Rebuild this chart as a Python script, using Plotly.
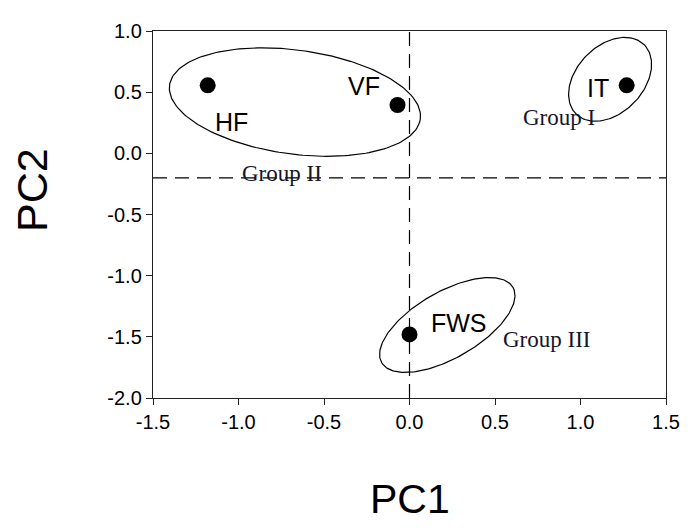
import numpy as np
import plotly.graph_objects as go

# data
names = ["HF", "VF", "IT", "FWS"]
pc1 = [-1.18, -0.07, 1.27, 0.00]
pc2 = [0.556, 0.395, 0.556, -1.48]
label_x = [-1.04, -0.264, 1.10, 0.288]
label_y = [0.258, 0.548, 0.532, -1.387]

groups = ["Group I", "Group II", "Group III"]
group_x = [0.874, -0.745, 0.804]
group_y = [0.29, -0.161, -1.524]
# ellipse centres (data), semi-axes (px) and tilt (deg, up-right positive)
ell_cx = [1.173, -0.67, 0.221]
ell_cy = [0.605, 0.419, -1.403]
ell_a = [49.2, 128.0, 76.6]
ell_b = [33.9, 52.7, 33.7]
ell_ang = [46.0, -7.7, 29.9]

x_ticks = [-1.5, -1.0, -0.5, 0.0, 0.5, 1.0, 1.5]
y_ticks = [1.0, 0.5, 0.0, -0.5, -1.0, -1.5, -2.0]

W, H = 684, 523
ml, mr, mt, mb = 145, 20, 18, 133
sx = (W - ml - mr) / 3.0
sy = (H - mt - mb) / 3.0

fig = go.Figure()

# dashed reference lines
fig.add_trace(go.Scatter(x=[-1.5, 1.5], y=[-0.2, -0.2], mode="lines",
                         line=dict(color="black", width=1.2, dash="14px,8px"),
                         hoverinfo="skip", showlegend=False))
fig.add_trace(go.Scatter(x=[0, 0], y=[-2.0, 1.0], mode="lines",
                         line=dict(color="black", width=1.2, dash="14px,8px"),
                         hoverinfo="skip", showlegend=False))

# ellipses
t = np.linspace(0, 2 * np.pi, 200)
for cx, cy, a, b, ang in zip(ell_cx, ell_cy, ell_a, ell_b, ell_ang):
    th = np.deg2rad(ang)
    px = a * np.cos(t) * np.cos(th) - b * np.sin(t) * np.sin(th)
    py = a * np.cos(t) * np.sin(th) + b * np.sin(t) * np.cos(th)
    fig.add_trace(go.Scatter(x=cx + px / sx, y=cy + py / sy, mode="lines",
                             line=dict(color="black", width=1.2),
                             hoverinfo="skip", showlegend=False))

# points
fig.add_trace(go.Scatter(x=pc1, y=pc2, mode="markers",
                         marker=dict(color="black", size=16),
                         showlegend=False))

for n, lx, ly in zip(names, label_x, label_y):
    fig.add_annotation(x=lx, y=ly, text=n, showarrow=False,
                       font=dict(family="Arial, Liberation Sans", size=25, color="black"))
for g, gx, gy in zip(groups, group_x, group_y):
    fig.add_annotation(x=gx, y=gy, text=g, showarrow=False,
                       font=dict(family="Liberation Serif, Times New Roman", size=23, color="#15152a"))

fig.add_annotation(xref="paper", yref="paper", x=0.5, y=0, yshift=-101,
                   xanchor="center", yanchor="middle",
                   text="PC1", showarrow=False,
                   font=dict(family="Arial, Liberation Sans", size=41, color="black"))
fig.add_annotation(xref="paper", yref="paper", x=0, y=0.567, xshift=-121,
                   xanchor="center", yanchor="middle",
                   text="PC2", showarrow=False, textangle=-90,
                   font=dict(family="Arial, Liberation Sans", size=43, color="black"))

axis_font = dict(family="Arial, Liberation Sans", size=20, color="black")
fig.update_xaxes(range=[-1.5, 1.5], tickvals=x_ticks,
                 ticktext=[f"{v:.1f}" for v in x_ticks],
                 showgrid=False, zeroline=False, showline=True, linecolor="#222",
                 linewidth=1.4, mirror=True, ticks="outside", ticklen=6,
                 tickcolor="#222", tickfont=axis_font)
fig.update_yaxes(range=[-2.0, 1.0], tickvals=y_ticks,
                 ticktext=[f"{v:.1f}" for v in y_ticks],
                 showgrid=False, zeroline=False, showline=True, linecolor="#222",
                 linewidth=1.4, mirror=True, ticks="outside", ticklen=6,
                 tickcolor="#222", tickfont=axis_font)

fig.update_layout(width=W, height=H, margin=dict(l=ml, r=mr, t=mt, b=mb),
                  plot_bgcolor="white", paper_bgcolor="white")
fig.write_html("out.html")
